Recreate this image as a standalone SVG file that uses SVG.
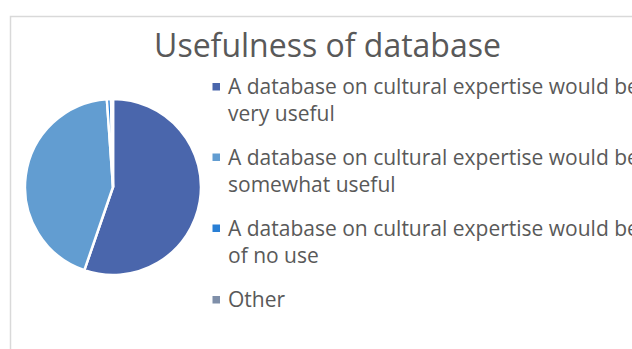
<svg xmlns="http://www.w3.org/2000/svg" width="632" height="349" viewBox="0 0 632 349">
  <style>
    .title { font-family: "Open Sans", "Noto Sans", sans-serif; font-size: 32px; fill: #595959; }
    .leg { font-family: "Open Sans", "Noto Sans", sans-serif; font-size: 21px; fill: #595959; }
    .slice { stroke: #ffffff; stroke-width: 2.5; stroke-linejoin: round; }
  </style>
  <rect x="0" y="0" width="632" height="349" fill="#ffffff"/>
  <rect id="frame" x="10.5" y="16.5" width="700" height="400" fill="#ffffff" stroke="#d9d9d9" stroke-width="1.5"/>
  <text class="title" x="327.5" y="57" text-anchor="middle">Usefulness of database</text>
  <g id="pie">
    <path id="slice-very" class="slice" fill="#4A66AC" d="M113,187 L113,99 A88,88 0 1 1 84.35,270.21 Z"/>
    <path id="slice-somewhat" class="slice" fill="#629DD1" d="M113,187 L84.35,270.21 A88,88 0 0 1 106.86,99.21 Z"/>
    <path id="slice-nouse" class="slice" fill="#297FD5" d="M113,187 L106.86,99.21 A88,88 0 0 1 111.00,99.02 Z"/>
    <path id="slice-other" class="slice" fill="#7F8FA9" d="M113,187 L111.00,99.02 A88,88 0 0 1 113,99 Z"/>
  </g>
  <g id="legend">
    <g id="legend-very">
      <rect x="212.5" y="83" width="7.5" height="7.5" fill="#4A66AC"/>
      <text class="leg" x="228" y="94">A database on cultural expertise would be</text>
      <text class="leg" x="228" y="121">very useful</text>
    </g>
    <g id="legend-somewhat">
      <rect x="212.5" y="153.5" width="7.5" height="7.5" fill="#629DD1"/>
      <text class="leg" x="228" y="164.5">A database on cultural expertise would be</text>
      <text class="leg" x="228" y="191.5">somewhat useful</text>
    </g>
    <g id="legend-nouse">
      <rect x="212.5" y="224.5" width="7.5" height="7.5" fill="#297FD5"/>
      <text class="leg" x="228" y="235.5">A database on cultural expertise would be</text>
      <text class="leg" x="228" y="263">of no use</text>
    </g>
    <g id="legend-other">
      <rect x="212.5" y="296" width="7.5" height="7.5" fill="#7F8FA9"/>
      <text class="leg" x="228" y="307">Other</text>
    </g>
  </g>
</svg>
